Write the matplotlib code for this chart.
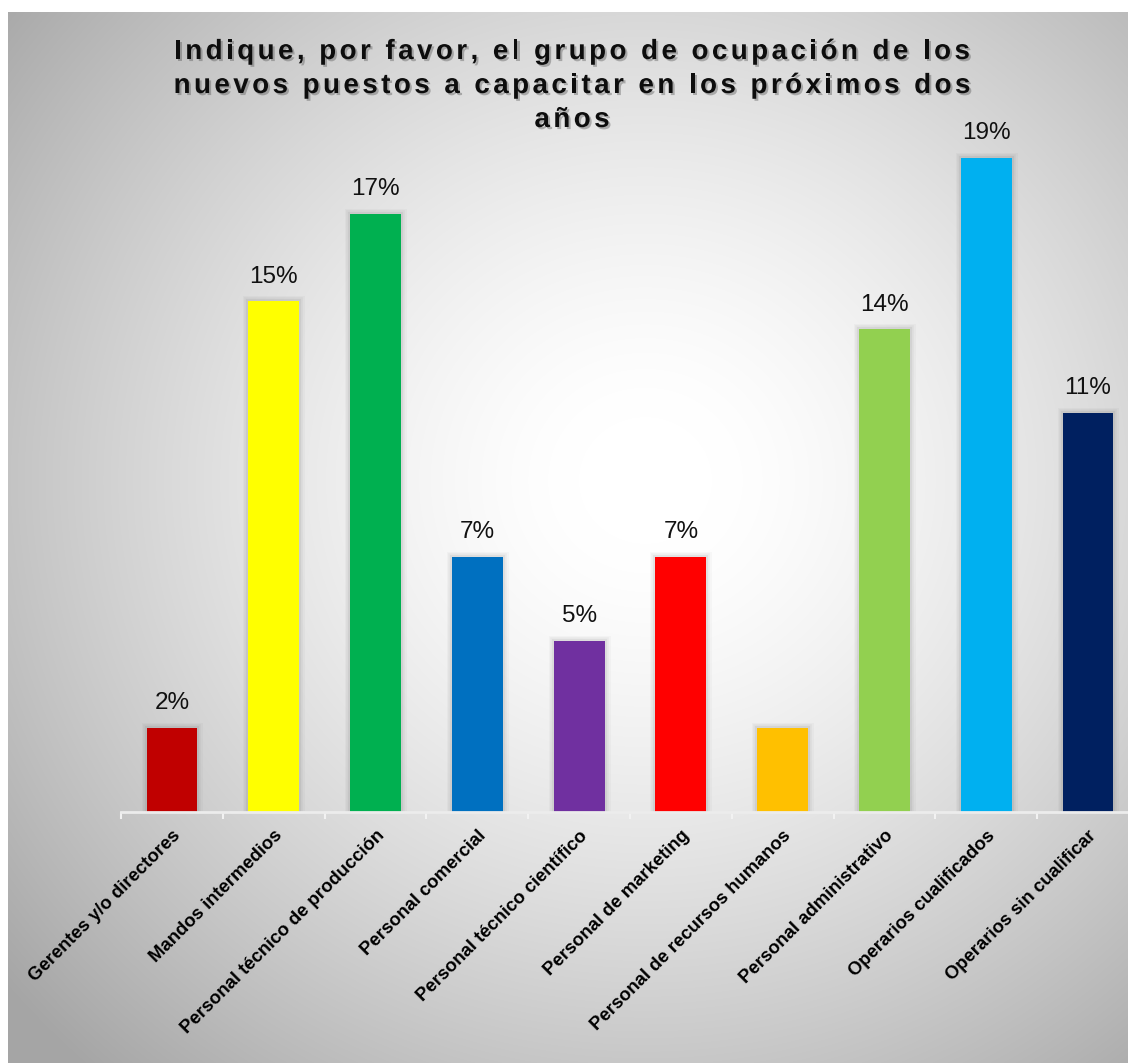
import numpy as np
import matplotlib
matplotlib.use("Agg")
from matplotlib import pyplot as plt
from matplotlib import patheffects as pe
from matplotlib import font_manager
from matplotlib.ft2font import FT2Font, LOAD_NO_HINTING

categories = ['Gerentes y/o directores', 'Mandos intermedios',
              'Personal técnico de producción', 'Personal comercial',
              'Personal técnico científico', 'Personal de marketing',
              'Personal de recursos humanos', 'Personal administrativo',
              'Operarios cualificados', 'Operarios sin cualificar']
shares = [2.4, 14.6, 17.1, 7.3, 4.9, 7.3, 2.4, 13.8, 18.7, 11.4]
show_label = [True, True, True, True, True, True, False, True, True, True]
colors = ['#C00000', '#FFFF00', '#00B050', '#0070C0', '#7030A0',
          '#FF0000', '#FFC000', '#92D050', '#00B0F0', '#002060']
title_lines = ['Indique, por favor, el grupo de ocupación de los',
               'nuevos puestos a capacitar en los próximos dos',
               'años']

W, H = 1128, 1063
fig = plt.figure(figsize=(W / 100, H / 100), dpi=100)
fig.patch.set_facecolor('white')

# radial grey backdrop
bg = fig.add_axes([8 / W, 0, 1 - 8 / W, 1 - 12 / H])
bg.set_axis_off()
yy, xx = np.mgrid[12:H, 8:W]
d = np.hypot(xx - 645, (yy - 480) * 1.05) / 830
v = np.clip(1 - 0.35 * np.clip((d - 0.08) / 0.92, 0, 1) ** 1.4, 0, 1)
bg.imshow(np.dstack([v, v, v]), aspect='auto', extent=(0, 1, 0, 1))

# plot area
slot = 101.78
left_px = 172 - slot / 2
base_px = 812
ppu = 34.97
ymax = 20
ax = fig.add_axes([left_px / W, (H - base_px) / H, 10 * slot / W, ymax * ppu / H])
ax.patch.set_alpha(0)
x = np.arange(len(categories))

# soft shadow behind the bars
for lw, a in [(8, 0.025), (5.5, 0.035), (3, 0.05)]:
    ax.bar(x, shares, width=0.5, facecolor='none', edgecolor=(0, 0, 0, a),
           linewidth=lw, zorder=1)
bars = ax.bar(x, shares, width=0.5, color=colors, zorder=2)

for xi, val, show in zip(x, shares, show_label):
    if show:
        ax.annotate(f'{val:.0f}%', (xi, val), xytext=(0, 10),
                    textcoords='offset points', ha='center', va='bottom',
                    fontsize=17.5, family='Liberation Sans', color='#111111')

ax.set_xlim(-0.5, len(categories) - 0.5)
ax.set_ylim(0, ymax)
for s in ['top', 'right', 'left']:
    ax.spines[s].set_visible(False)
ax.spines['bottom'].set_color('#ececec')
ax.spines['bottom'].set_linewidth(2)
ax.spines['bottom'].set_zorder(3)
ax.set_yticks([])
ax.set_xticks(x)
ax.set_xticks(np.arange(-0.5, len(categories)), minor=True)
ax.tick_params(axis='x', which='major', length=0, pad=11)
ax.tick_params(axis='x', which='minor', length=5, width=1.5, color='#f2f2f2')
ax.set_xticklabels(categories, rotation=45, ha='right', va='top',
                   rotation_mode='anchor', fontsize=13.3,
                   fontweight='bold', family='Liberation Sans')

# title with extra letter spacing
fp = font_manager.FontProperties(family='Liberation Sans', weight='bold')
font = FT2Font(font_manager.findfont(fp))
size = 20
font.set_size(size, 100)


def advances(s):
    return [font.load_char(ord(c), flags=LOAD_NO_HINTING).linearHoriAdvance / 65536
            for c in s]


track = 3.45
cx = 572
for line, base in zip(title_lines, [59, 93, 127]):
    adv = advances(line)
    total = sum(adv) + track * (len(line) - 1)
    xpos = cx - total / 2
    for ch, a in zip(line, adv):
        if ch != ' ':
            fig.text(xpos / W, 1 - base / H, ch, fontsize=size, fontweight='bold',
                     family='Liberation Sans', color='#0d0d0d',
                     ha='left', va='baseline',
                     path_effects=[pe.withSimplePatchShadow(offset=(1.5, -1.5),
                                                            shadow_rgbFace='#555555',
                                                            alpha=0.4)])
        xpos += a + track

fig.savefig('out.png', dpi=100, facecolor=fig.get_facecolor())
